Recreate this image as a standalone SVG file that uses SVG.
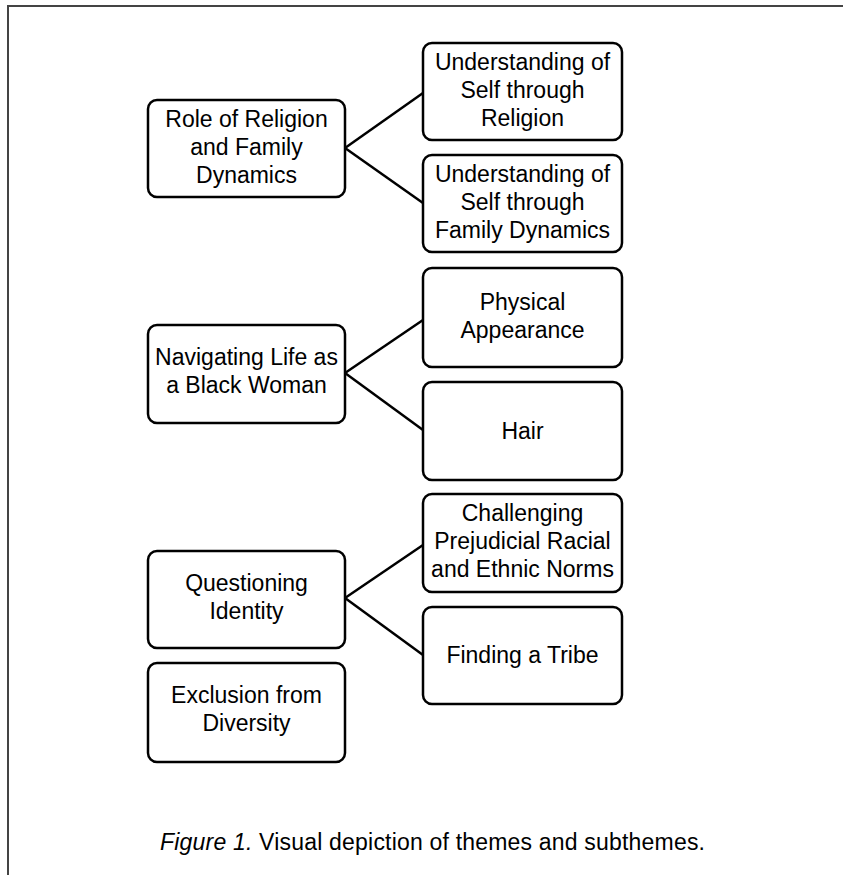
<svg xmlns="http://www.w3.org/2000/svg" width="843" height="875" viewBox="0 0 843 875">
<style>
.box{fill:#fff;stroke:#000;stroke-width:2.5}
.t{font-family:"Liberation Sans",Arial,sans-serif;font-size:23px;fill:#000;text-anchor:middle}
.con line{stroke:#000;stroke-width:2.5}
.frame{stroke:#444;stroke-width:2;fill:none}
.cap{font-family:"Liberation Sans",Arial,sans-serif;font-size:23px;fill:#000;text-anchor:middle}
</style>
<rect width="843" height="875" fill="#fff"/>
<path class="frame" d="M8 875 V6 H843"/>
<g class="con">
<line x1="345" y1="148" x2="423" y2="93"/>
<line x1="345" y1="148" x2="423" y2="203"/>
<line x1="345" y1="373" x2="423" y2="320"/>
<line x1="345" y1="373" x2="423" y2="430"/>
<line x1="345" y1="598" x2="423" y2="545"/>
<line x1="345" y1="598" x2="423" y2="655"/>
</g>
<g id="role">
<rect class="box" x="148" y="100" width="197" height="97" rx="9"/>
<text class="t" x="246.5" y="127">Role of Religion</text>
<text class="t" x="246.5" y="155">and Family</text>
<text class="t" x="246.5" y="183">Dynamics</text>
</g>
<g id="selfReligion">
<rect class="box" x="423" y="43" width="199" height="97" rx="9"/>
<text class="t" x="522.5" y="70">Understanding of</text>
<text class="t" x="522.5" y="98">Self through</text>
<text class="t" x="522.5" y="126">Religion</text>
</g>
<g id="selfFamily">
<rect class="box" x="423" y="155" width="199" height="97" rx="9"/>
<text class="t" x="522.5" y="182">Understanding of</text>
<text class="t" x="522.5" y="210">Self through</text>
<text class="t" x="522.5" y="238">Family Dynamics</text>
</g>
<g id="navigating">
<rect class="box" x="148" y="325" width="197" height="98" rx="9"/>
<text class="t" x="246.5" y="365">Navigating Life as</text>
<text class="t" x="246.5" y="393">a Black Woman</text>
</g>
<g id="physical">
<rect class="box" x="423" y="268" width="199" height="99" rx="9"/>
<text class="t" x="522.5" y="310">Physical</text>
<text class="t" x="522.5" y="338">Appearance</text>
</g>
<g id="hair">
<rect class="box" x="423" y="382" width="199" height="98" rx="9"/>
<text class="t" x="522.5" y="439">Hair</text>
</g>
<g id="questioning">
<rect class="box" x="148" y="551" width="197" height="97" rx="9"/>
<text class="t" x="246.5" y="591">Questioning</text>
<text class="t" x="246.5" y="619">Identity</text>
</g>
<g id="exclusion">
<rect class="box" x="148" y="663" width="197" height="99" rx="9"/>
<text class="t" x="246.5" y="703">Exclusion from</text>
<text class="t" x="246.5" y="731">Diversity</text>
</g>
<g id="challenging">
<rect class="box" x="423" y="494" width="199" height="98" rx="9"/>
<text class="t" x="522.5" y="521">Challenging</text>
<text class="t" x="522.5" y="549">Prejudicial Racial</text>
<text class="t" x="522.5" y="577">and Ethnic Norms</text>
</g>
<g id="tribe">
<rect class="box" x="423" y="607" width="199" height="97" rx="9"/>
<text class="t" x="522.5" y="663">Finding a Tribe</text>
</g>
<text class="cap" x="432.5" y="850" textLength="545"><tspan font-style="italic">Figure 1.</tspan> Visual depiction of themes and subthemes.</text>
</svg>
